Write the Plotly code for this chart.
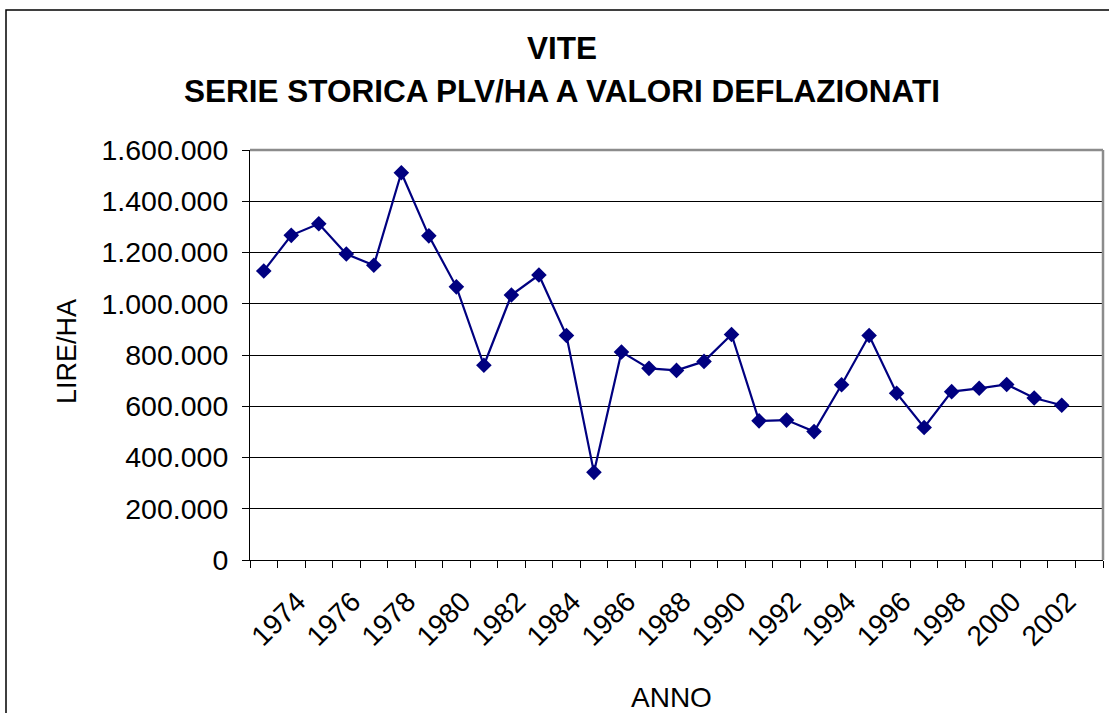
import plotly.graph_objects as go

# Serie storica PLV/ha della vite, valori deflazionati (lire/ha)
anni = list(range(1973, 2003))
plv_ha = [
    1128000, 1267000, 1312000, 1194000, 1150000, 1511000, 1265000, 1066000,
    760000, 1034000, 1112000, 876000, 342000, 812000, 748000, 740000,
    775000, 880000, 543000, 546000, 501000, 684000, 876000, 651000,
    517000, 657000, 670000, 685000, 632000, 604000,
]
etichette_anni = list(range(1974, 2003, 2))
valori_asse_y = list(range(0, 1600001, 200000))

W, H = 1109, 713
L, R, T, B = 250, 6, 150, 153
pw, ph = W - L - R, H - T - B


def px_x(px):
    return (px - L) / pw


def px_y(py):
    return (H - B - py) / ph


FONT = "Arial, Liberation Sans, sans-serif"

fig = go.Figure()
fig.add_trace(go.Scatter(
    x=anni,
    y=plv_ha,
    mode="lines+markers",
    line=dict(color="#000080", width=2.2),
    marker=dict(symbol="diamond", size=12, color="#000080"),
    showlegend=False,
))

fig.update_layout(
    width=W,
    height=H,
    margin=dict(l=L, r=R, t=T, b=B),
    paper_bgcolor="white",
    plot_bgcolor="white",
    separators=",.",
    font=dict(family=FONT, color="black", size=26),
    xaxis=dict(
        range=[1972.5, 2003.5],
        tickmode="array",
        tickvals=etichette_anni,
        ticktext=[str(a) for a in etichette_anni],
        tickangle=-45,
        ticks="",
        showgrid=False,
        zeroline=False,
        showline=True,
        linecolor="black",
        linewidth=1,
        tickfont=dict(size=28),
        ticklabelstandoff=13,
        ticklabelshift=6,
        minor=dict(
            tickvals=[a + 0.5 for a in range(1972, 2004)],
            ticks="outside",
            ticklen=7,
            tickcolor="black",
            tickwidth=1,
            showgrid=False,
        ),
    ),
    yaxis=dict(
        range=[0, 1600000],
        tickmode="array",
        tickvals=valori_asse_y,
        tickformat=",.0f",
        ticks="outside",
        ticklen=7,
        tickcolor="black",
        showgrid=True,
        gridcolor="black",
        gridwidth=1,
        zeroline=False,
        showline=True,
        linecolor="black",
        linewidth=1,
        tickfont=dict(size=28.5),
        ticklabelstandoff=8,
    ),
    shapes=[
        # cornice del grafico
        dict(type="rect", xref="paper", yref="paper",
             x0=px_x(6), x1=px_x(1120), y0=px_y(730), y1=px_y(10),
             line=dict(color="black", width=1.5), layer="below"),
        # bordo dell'area del tracciato (lati superiore e destro)
        dict(type="line", xref="paper", yref="paper",
             x0=0, x1=1, y0=1, y1=1,
             line=dict(color="#8c8c8c", width=2.5)),
        dict(type="line", xref="paper", yref="paper",
             x0=1, x1=1, y0=0, y1=1,
             line=dict(color="#8c8c8c", width=2.5)),
    ],
    annotations=[
        dict(text="<b>VITE</b>", xref="paper", yref="paper",
             x=px_x(562), y=px_y(48), showarrow=False,
             xanchor="center", yanchor="middle", font=dict(size=31.5)),
        dict(text="<b>SERIE STORICA PLV/HA A VALORI DEFLAZIONATI</b>",
             xref="paper", yref="paper",
             x=px_x(562), y=px_y(91), showarrow=False,
             xanchor="center", yanchor="middle", font=dict(size=31.5)),
        dict(text="LIRE/HA", xref="paper", yref="paper",
             x=px_x(67), y=px_y(352), textangle=-90, showarrow=False,
             xanchor="center", yanchor="middle", font=dict(size=27)),
        dict(text="ANNO", xref="paper", yref="paper",
             x=px_x(671), y=px_y(697), showarrow=False,
             xanchor="center", yanchor="middle", font=dict(size=28)),
    ],
)

fig.write_html("out.html")
